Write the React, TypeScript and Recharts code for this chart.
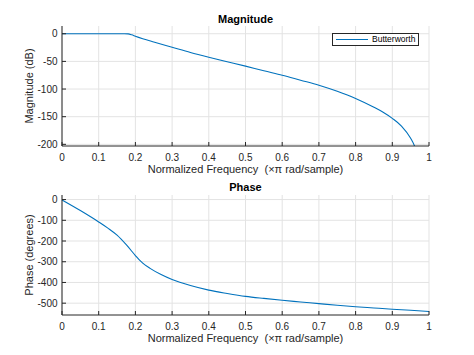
import React from 'react';
import { LineChart, Line, XAxis, YAxis, CartesianGrid, Legend, Label } from 'recharts';

// axis ticks
const freqTicks = [0, 0.1, 0.2, 0.3, 0.4, 0.5, 0.6, 0.7, 0.8, 0.9, 1];
const magTicks = [0, -50, -100, -150, -200];
const phaseTicks = [0, -100, -200, -300, -400, -500];

// magnitude response (dB)
const magFreq = [0, 0.05, 0.1, 0.15, 0.17, 0.18, 0.19, 0.2, 0.22, 0.25, 0.3, 0.35, 0.4, 0.45, 0.5, 0.55, 0.6, 0.65, 0.7, 0.75, 0.8, 0.85, 0.875, 0.9, 0.925, 0.95, 0.96, 0.97];
const magDb = [0, 0, 0, 0, 0, -0.3, -2, -4.5, -9, -15, -24.5, -34, -42.5, -50.5, -58.5, -67, -75, -84, -93, -104, -117, -133, -142, -153, -167, -189, -202, -222];

// phase response (degrees)
const phaseFreq = [0, 0.05, 0.1, 0.125, 0.15, 0.175, 0.2, 0.21, 0.22, 0.24, 0.27, 0.3, 0.35, 0.4, 0.45, 0.5, 0.55, 0.6, 0.65, 0.7, 0.75, 0.8, 0.85, 0.9, 0.95, 1];
const phaseDeg = [-2, -53, -108, -138, -172, -218, -270, -290, -307, -332, -362, -386, -415, -437, -453, -467, -477, -486, -494, -502, -510, -517, -523, -529, -534, -540];

const magData = magFreq.map((f, i) => ({ f, v: magDb[i] }));
const phaseData = phaseFreq.map((f, i) => ({ f, v: phaseDeg[i] }));

const lineColor = '#0072BD';
const axisColor = '#262626';
const gridColor = '#e3e3e3';
const font = '"Liberation Sans", Arial, sans-serif';

const BottomTick = ({ x, y, payload }: any) => (
  <g>
    <line x1={x} x2={x} y1={y} y2={y - 4} stroke={axisColor} />
    <text x={x} y={y + 14.5} textAnchor="middle" fontSize={10} fill={axisColor} fontFamily={font}>
      {payload.value}
    </text>
  </g>
);

const TopTick = ({ x, y }: any) => <line x1={x} x2={x} y1={y} y2={y + 4} stroke={axisColor} />;

const LeftTick = ({ x, y, payload }: any) => (
  <g>
    <line x1={x} x2={x + 4} y1={y} y2={y} stroke={axisColor} />
    <text x={x - 4.5} y={y + 3.6} textAnchor="end" fontSize={10} fill={axisColor} fontFamily={font}>
      {payload.value}
    </text>
  </g>
);

const RightTick = ({ x, y }: any) => <line x1={x} x2={x - 4} y1={y} y2={y} stroke={axisColor} />;

const xLabel = (props: any) => {
  const vb = props.viewBox;
  return (
    <text x={vb.x + vb.width / 2} y={vb.y + 27} textAnchor="middle" fontSize={11} fill={axisColor} fontFamily={font}>
      {'Normalized Frequency\u00A0\u00A0(\u00D7\u03C0 rad/sample)'}
    </text>
  );
};

const yLabel = (text: string) => (props: any) => {
  const vb = props.viewBox;
  const cx = 33;
  const cy = vb.y + vb.height / 2;
  return (
    <text x={cx} y={cy} transform={`rotate(-90 ${cx} ${cy})`} textAnchor="middle" fontSize={11} fill={axisColor} fontFamily={font}>
      {text}
    </text>
  );
};

const renderLegend = () => (
  <div
    style={{
      width: 87,
      height: 13,
      boxSizing: 'border-box',
      border: `1px solid ${axisColor}`,
      background: '#fff',
      display: 'flex',
      alignItems: 'center',
      fontFamily: font,
      fontSize: 8.5,
      color: '#000',
      lineHeight: '11px',
    }}
  >
    <svg width={36} height={11} style={{ display: 'block' }}>
      <line x1={3} x2={35} y1={5.5} y2={5.5} stroke={lineColor} strokeWidth={1} />
    </svg>
    <span style={{ marginLeft: 3 }}>Butterworth</span>
  </div>
);

interface PanelProps {
  data: { f: number; v: number }[];
  height: number;
  top: number;
  axisHeight: number;
  yDomain: [number, number];
  yTicks: number[];
  yTitle: string;
  legend?: boolean;
}

function Panel({ data, height, top, axisHeight, yDomain, yTicks, yTitle, legend }: PanelProps) {
  return (
    <LineChart width={474} height={height} data={data} margin={{ top, right: 45, bottom: 0, left: 0 }}>
      <CartesianGrid stroke={gridColor} horizontalValues={yTicks} verticalValues={freqTicks} />
      <XAxis
        dataKey="f"
        type="number"
        domain={[0, 1]}
        ticks={freqTicks}
        interval={0}
        height={axisHeight}
        tickSize={0}
        tickMargin={0}
        tickLine={false}
        stroke={axisColor}
        tick={<BottomTick />}
      >
        <Label content={xLabel} />
      </XAxis>
      <XAxis
        xAxisId="top"
        dataKey="f"
        type="number"
        orientation="top"
        domain={[0, 1]}
        ticks={freqTicks}
        interval={0}
        height={0}
        tickSize={0}
        tickMargin={0}
        tickLine={false}
        stroke={axisColor}
        tick={<TopTick />}
      />
      <YAxis
        type="number"
        domain={yDomain}
        allowDataOverflow
        ticks={yTicks}
        interval={0}
        width={62}
        tickSize={0}
        tickMargin={0}
        tickLine={false}
        stroke={axisColor}
        tick={<LeftTick />}
      >
        <Label content={yLabel(yTitle)} />
      </YAxis>
      <YAxis
        yAxisId="right"
        orientation="right"
        type="number"
        domain={yDomain}
        allowDataOverflow
        ticks={yTicks}
        interval={0}
        width={0}
        tickSize={0}
        tickMargin={0}
        tickLine={false}
        stroke={axisColor}
        tick={<RightTick />}
      />
      {legend && (
        <Legend
          content={renderLegend}
          layout="horizontal"
          verticalAlign="middle"
          align="center"
          wrapperStyle={{ left: 332, top: 33, width: 87, height: 13 }}
        />
      )}
      <Line
        type="monotone"
        dataKey="v"
        name="Butterworth"
        stroke={lineColor}
        strokeWidth={1.1}
        dot={false}
        isAnimationActive={false}
      />
    </LineChart>
  );
}

export default function App() {
  return (
    <div style={{ position: 'absolute', left: 0, top: 0, width: 474, height: 355, background: '#fff', fontFamily: font }}>
      <div style={{ position: 'absolute', left: 0, top: 0 }}>
        <Panel
          data={magData}
          height={175}
          top={26}
          axisHeight={29}
          yDomain={[-203, 14]}
          yTicks={magTicks}
          yTitle="Magnitude (dB)"
          legend
        />
      </div>
      <div style={{ position: 'absolute', left: 0, top: 175 }}>
        <Panel
          data={phaseData}
          height={180}
          top={20}
          axisHeight={40}
          yDomain={[-557, 22]}
          yTicks={phaseTicks}
          yTitle="Phase (degrees)"
        />
      </div>
      {/* panel titles */}
      <svg width={474} height={355} style={{ position: 'absolute', left: 0, top: 0, pointerEvents: 'none' }}>
        <text x={245.5} y={22.5} textAnchor="middle" fontSize={11} fontWeight="bold" fill="#000" fontFamily={font}>
          Magnitude
        </text>
        <text x={245.5} y={190.5} textAnchor="middle" fontSize={11} fontWeight="bold" fill="#000" fontFamily={font}>
          Phase
        </text>
      </svg>
    </div>
  );
}
